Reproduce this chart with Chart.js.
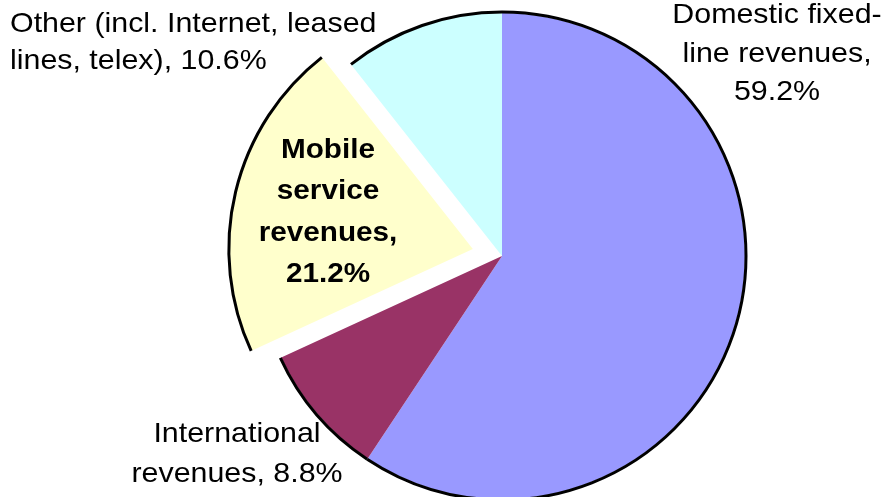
<!DOCTYPE html>
<html>
<head>
<meta charset="utf-8">
<script src="https://cdn.jsdelivr.net/npm/chart.js@4/dist/chart.umd.min.js"></script>
<style>
  html, body { margin: 0; padding: 0; background: #ffffff; overflow: hidden; }
  #wrap { position: absolute; left: 0; top: 0; width: 889px; height: 512px; }
</style>
</head>
<body>
<div id="wrap"><canvas id="c"></canvas></div>
<script>
// ---- data ----
const categories = ['Domestic fixed-line revenues', 'International revenues', 'Mobile service revenues', 'Other (incl. Internet, leased lines, telex)'];
const shares = [59.2, 8.8, 21.2, 10.6];
const colors = ['#9999FF', '#993366', '#FFFFCC', '#CCFFFF'];
const exploded = [0, 0, 30, 0];

// label text lines ({v} = value)
const labelLines = [
  ['Domestic fixed-', 'line revenues,', '{v}%'],
  ['International', 'revenues, {v}%'],
  ['Mobile', 'service', 'revenues,', '{v}%'],
  ['Other (incl. Internet, leased', 'lines, telex), {v}%']
];
// label layout relative to pie centre: dx, first baseline dy, line gap, align, bold
const labelLayout = [
  { dx: 275, dy: -233, gap: 38.5, align: 'center', bold: false, size: 28, sx: 1.085 },
  { dx: -265, dy: 186, gap: 39.5, align: 'center', bold: false, size: 28, sx: 1.085 },
  { dx: -174, dy: -98, gap: 41.3, align: 'center', bold: true, size: 27, sx: 1.1 },
  { dx: -492, dy: -224, gap: 36.5, align: 'left', bold: false, size: 28, sx: 1.085 }
];

const explodePlugin = {
  id: 'explode',
  afterUpdate(chart) {
    const meta = chart.getDatasetMeta(0);
    meta.data.forEach((el, i) => {
      const d = exploded[i] || 0;
      if (!d) return;
      const mid = (el.startAngle + el.endAngle) / 2;
      el.x += Math.cos(mid) * d;
      el.y += Math.sin(mid) * d;
    });
  }
};

const rimPlugin = {
  id: 'rim',
  afterDatasetsDraw(chart) {
    const ctx = chart.ctx;
    const meta = chart.getDatasetMeta(0);
    ctx.save();
    ctx.strokeStyle = '#000000';
    ctx.lineWidth = 3;
    meta.data.forEach(el => {
      ctx.beginPath();
      ctx.arc(el.x, el.y, el.outerRadius + 1, el.startAngle, el.endAngle);
      ctx.stroke();
    });
    ctx.restore();
  }
};

const labelPlugin = {
  id: 'labels',
  afterDraw(chart) {
    const ctx = chart.ctx;
    const area = chart.chartArea;
    const cx = (area.left + area.right) / 2;
    const cy = (area.top + area.bottom) / 2;
    ctx.save();
    ctx.fillStyle = '#000000';
    ctx.textBaseline = 'alphabetic';
    labelLines.forEach((lines, i) => {
      const L = labelLayout[i];
      ctx.font = (L.bold ? 'bold ' : '') + L.size + 'px "Liberation Sans", Arial, sans-serif';
      ctx.textAlign = L.align;
      lines.forEach((t, k) => {
        const txt = t.replace('{v}', shares[i].toFixed(1));
        ctx.save();
        ctx.translate(cx + L.dx, cy + L.dy + k * L.gap);
        ctx.scale(L.sx, 1);
        ctx.fillText(txt, 0, 0);
        ctx.restore();
      });
    });
    ctx.restore();
  }
};

new Chart(document.getElementById('c'), {
  type: 'pie',
  data: {
    labels: categories,
    datasets: [{
      data: shares,
      backgroundColor: colors,
      borderWidth: 0
    }]
  },
  options: {
    responsive: true,
    maintainAspectRatio: false,
    animation: false,
    events: [],
    radius: 243,
    layout: { padding: { left: 115, right: 0, top: 0, bottom: 0 } },
    plugins: {
      legend: { display: false },
      tooltip: { enabled: false }
    }
  },
  plugins: [explodePlugin, rimPlugin, labelPlugin]
});
</script>
</body>
</html>
